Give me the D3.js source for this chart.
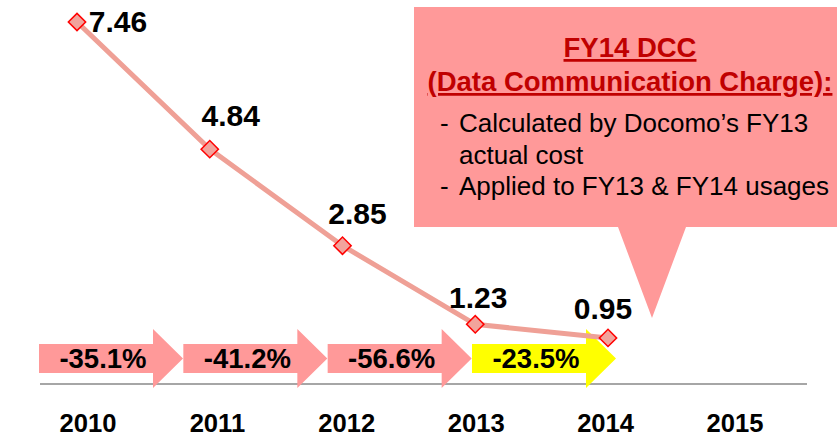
<!DOCTYPE html>
<html>
<head>
    <meta charset="UTF-8">
    <title>Data Communication Charge</title>
    <script src="https://d3js.org/d3.v7.min.js"></script>
    <style>
        body { margin: 0; background: #ffffff; }
        text { font-family: "Liberation Sans", Arial, sans-serif; }
    </style>
</head>
<body>
<div id="chart"></div>
<script>
    // chart values
    var years = [2010, 2011, 2012, 2013, 2014];
    var values = [7.46, 4.84, 2.85, 1.23, 0.95];
    var axisYears = ["2010", "2011", "2012", "2013", "2014", "2015"];
    var changes = ["-35.1%", "-41.2%", "-56.6%", "-23.5%"];
    var changeColours = ["#ff9999", "#ff9999", "#ff9999", "#ffff00"];
    var calloutTitle = ["FY14 DCC", "(Data Communication Charge):"];
    var calloutBody = [
        ["- ", "Calculated by Docomo\u2019s FY13"],
        ["", "actual cost"],
        ["- ", "Applied to FY13 & FY14 usages"]
    ];

    // label placement relative to each point (layout only)
    var labelOffsets = [[41, 10], [21, -23], [15, -22], [3, -16], [-5, -19]];

    var width = 837, height = 437;

    var svg = d3.select("#chart").append("svg")
        .attr("width", width)
        .attr("height", height);

    // scales
    var xScale = d3.scaleLinear().domain([2010, 2014]).range([77, 608]);
    var yScale = d3.scaleLinear().domain([0, 7.46]).range([384, 22]);
    var axisScale = d3.scalePoint().domain(axisYears).range([87.5, 734.5]);
    var arrowScale = d3.scaleLinear().domain([0, 3]).range([39, 472]);

    // callout box with pointer
    var callout = d3.path();
    callout.moveTo(414, 7);
    callout.lineTo(width + 5, 7);
    callout.lineTo(width + 5, 227);
    callout.lineTo(686, 227);
    callout.lineTo(652, 318);
    callout.lineTo(618, 227);
    callout.lineTo(414, 227);
    callout.closePath();
    svg.append("path")
        .attr("d", callout.toString())
        .attr("fill", "#ff9999");

    // callout title, underlined dark red
    svg.selectAll(".ctitle")
        .data(calloutTitle)
        .enter()
        .append("text")
            .attr("class", "ctitle")
            .attr("x", 630)
            .attr("y", function(d, i) { return 57 + i * 34; })
            .attr("text-anchor", "middle")
            .attr("font-size", "27.5px")
            .attr("font-weight", "bold")
            .attr("fill", "#c00000")
            .attr("text-decoration", "underline")
            .text(function(d) { return d; });

    // callout bullet lines
    var bodyRows = svg.selectAll(".cbody")
        .data(calloutBody)
        .enter()
        .append("g")
            .attr("class", "cbody")
            .attr("transform", function(d, i) { return "translate(0," + (132 + i * 31.5) + ")"; });
    bodyRows.append("text")
        .attr("x", 440)
        .attr("font-size", "26px")
        .attr("fill", "#000")
        .text(function(d) { return d[0]; });
    bodyRows.append("text")
        .attr("x", 459)
        .attr("font-size", "26px")
        .attr("fill", "#000")
        .text(function(d) { return d[1]; });

    // baseline
    svg.append("line")
        .attr("x1", 40)
        .attr("x2", 807)
        .attr("y1", yScale(0))
        .attr("y2", yScale(0))
        .attr("stroke", "#a6a6a6")
        .attr("stroke-width", 2);

    // year labels
    var xAxis = d3.axisBottom(axisScale).tickSize(0).tickPadding(0);
    var axisG = svg.append("g")
        .attr("transform", "translate(0," + yScale(0) + ")")
        .call(xAxis);
    axisG.select(".domain").remove();
    axisG.selectAll("text")
        .attr("y", 48)
        .attr("dy", 0)
        .attr("font-family", "Liberation Sans, Arial, sans-serif")
        .attr("font-size", "25.6px")
        .attr("font-weight", "bold")
        .attr("fill", "#000");

    // change arrows
    var arrow = function(i) {
        var left = arrowScale(i);
        var p = d3.path();
        p.moveTo(left, 344);
        p.lineTo(left + 114, 344);
        p.lineTo(left + 114, 329);
        p.lineTo(left + 144, 358.5);
        p.lineTo(left + 114, 388);
        p.lineTo(left + 114, 373);
        p.lineTo(left, 373);
        p.closePath();
        return p.toString();
    };
    svg.selectAll(".arrow")
        .data(changes)
        .enter()
        .append("path")
            .attr("class", "arrow")
            .attr("d", function(d, i) { return arrow(i); })
            .attr("fill", function(d, i) { return changeColours[i]; });
    svg.selectAll(".change")
        .data(changes)
        .enter()
        .append("text")
            .attr("class", "change")
            .attr("x", function(d, i) { return arrowScale(i) + 64; })
            .attr("y", 368)
            .attr("text-anchor", "middle")
            .attr("font-size", "27.5px")
            .attr("font-weight", "bold")
            .attr("fill", "#000")
            .text(function(d) { return d; });

    // line
    var line = d3.line()
        .x(function(d, i) { return xScale(years[i]); })
        .y(function(d) { return yScale(d); });
    svg.append("path")
        .datum(values)
        .attr("d", line)
        .attr("fill", "none")
        .attr("stroke", "#efa096")
        .attr("stroke-width", 5);

    // diamond markers
    svg.selectAll(".marker")
        .data(values)
        .enter()
        .append("path")
            .attr("class", "marker")
            .attr("d", d3.symbol().type(d3.symbolSquare).size(150))
            .attr("transform", function(d, i) {
                return "translate(" + xScale(years[i]) + "," + yScale(d) + ") rotate(45)";
            })
            .attr("fill", "#f2a39c")
            .attr("stroke", "#ff0000")
            .attr("stroke-width", 1.5);

    // value labels
    svg.selectAll(".value")
        .data(values)
        .enter()
        .append("text")
            .attr("class", "value")
            .attr("x", function(d, i) { return xScale(years[i]) + labelOffsets[i][0]; })
            .attr("y", function(d, i) { return yScale(d) + labelOffsets[i][1]; })
            .attr("text-anchor", "middle")
            .attr("font-size", "30px")
            .attr("font-weight", "bold")
            .attr("fill", "#000")
            .text(function(d) { return d.toFixed(2); });
</script>
</body>
</html>
